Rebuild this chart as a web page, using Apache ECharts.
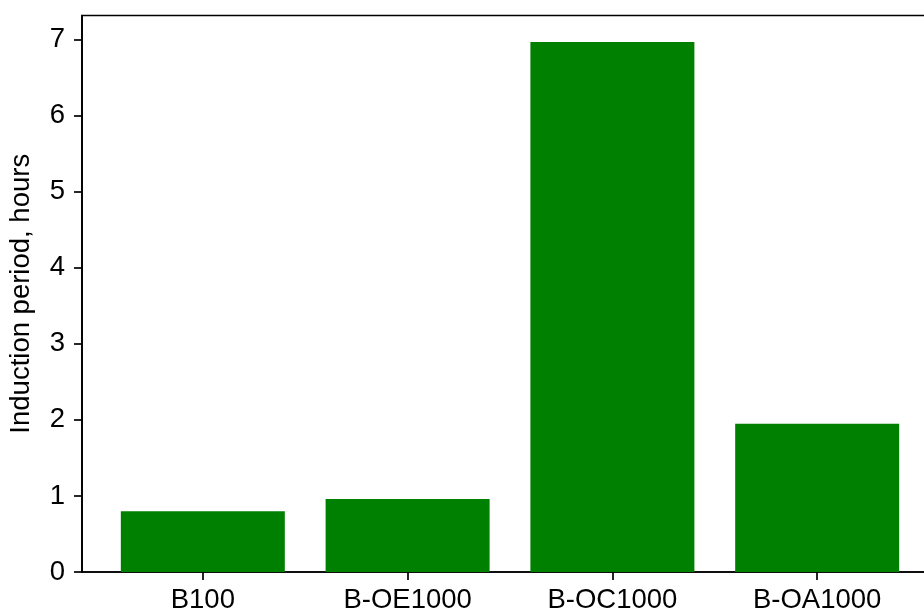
<!DOCTYPE html>
<html>
<head>
<meta charset="utf-8">
<script src="https://cdn.jsdelivr.net/npm/echarts@6/dist/echarts.min.js"></script>
<style>
  html, body { margin: 0; padding: 0; background: #ffffff; }
  #chart { width: 924px; height: 611px; }
</style>
</head>
<body>
<div id="chart"></div>
<script>
// Samples and their induction periods (hours)
const categories = ['B100', 'B-OE1000', 'B-OC1000', 'B-OA1000'];
const inductionHours = [0.80, 0.96, 6.97, 1.95];
const yTicks = [0, 1, 2, 3, 4, 5, 6, 7];

const FONT = 'Liberation Sans, Arial, Helvetica, sans-serif';
const FONT_SIZE = 27.5;
const AXIS_W = 1.7;

// Bars sit at integer positions 0..n-1 with width 0.8; pad the range by 5%
const half = 0.4;
const span = (categories.length - 1) + 2 * half;
const xMin = -half - 0.05 * span;
const xMax = (categories.length - 1) + half + 0.05 * span;
const yMax = Math.max(...inductionHours) * 1.05;

const chart = echarts.init(document.getElementById('chart'), null, { renderer: 'canvas' });

chart.setOption({
  backgroundColor: '#ffffff',
  animation: false,
  grid: {
    left: 82,
    top: 15.5,
    width: 856,
    height: 556.5,
    containLabel: false,
    outerBoundsMode: 'none',
    show: true,
    borderColor: '#000000',
    borderWidth: AXIS_W,
    backgroundColor: 'transparent'
  },
  xAxis: {
    type: 'value',
    min: xMin,
    max: xMax,
    splitLine: { show: false },
    axisLine: { show: true, onZero: false, lineStyle: { color: '#000', width: AXIS_W } },
    axisTick: {
      show: true, length: 8, inside: false,
      customValues: categories.map((c, i) => i),
      lineStyle: { color: '#000', width: AXIS_W }
    },
    axisLabel: {
      show: true,
      customValues: categories.map((c, i) => i),
      formatter: v => categories[Math.round(v)] || '',
      color: '#000',
      fontFamily: FONT,
      fontSize: FONT_SIZE,
      margin: 14
    }
  },
  yAxis: {
    type: 'value',
    min: 0,
    max: yMax,
    name: 'Induction period, hours',
    nameLocation: 'middle',
    nameRotate: 90,
    nameGap: 47,
    nameTextStyle: { color: '#000', fontFamily: FONT, fontSize: FONT_SIZE },
    splitLine: { show: false },
    axisLine: { show: true, onZero: false, lineStyle: { color: '#000', width: AXIS_W } },
    axisTick: {
      show: true, length: 8, inside: false,
      customValues: yTicks,
      lineStyle: { color: '#000', width: AXIS_W }
    },
    axisLabel: {
      show: true,
      customValues: yTicks,
      color: '#000',
      fontFamily: FONT,
      fontSize: FONT_SIZE,
      margin: 17
    }
  },
  series: [{
    type: 'bar',
    data: categories.map((c, i) => [i, inductionHours[i]]),
    barWidth: 164,
    itemStyle: { color: '#008000' },
    z: 1
  }]
});
</script>
</body>
</html>
